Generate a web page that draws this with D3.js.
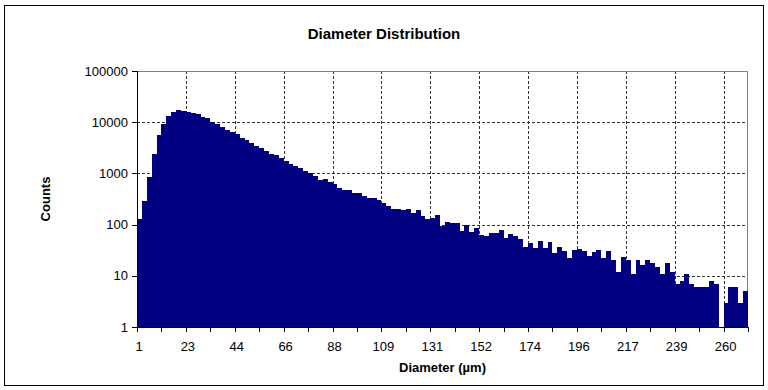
<!DOCTYPE html>
<html>
<head>
<meta charset="utf-8">
<script src="https://cdn.jsdelivr.net/npm/d3@7/dist/d3.min.js"></script>
<style>
  body { margin: 0; background: #fff; }
  svg text { font-family: "Liberation Sans", Arial, sans-serif; fill: #000; }
</style>
</head>
<body>
<div id="chart"></div>
<script>
// counts per diameter bin (bins of ~2.17 µm, labelled every 10th bin)
const counts = [
  128, 288, 850, 2400, 5650, 9300, 13300, 15700, 17400, 16700,
  16100, 15200, 14500, 12700, 12000, 10100, 9150, 8000, 7160, 6350,
  5820, 5000, 4500, 3980, 3440, 3100, 2750, 2400, 2240, 2000,
  1780, 1520, 1400, 1275, 1115, 1000, 890, 745, 775, 690,
  620, 520, 473, 468, 413, 410, 361, 330, 328, 301,
  263, 228, 200, 199, 191, 200, 168, 191, 147, 128,
  134, 153, 93, 112, 108, 107, 75, 98, 72, 86,
  62, 60, 68, 68, 78, 54, 65, 60, 52, 36,
  43, 35, 48, 35, 45, 28, 36, 30, 22, 32,
  33, 30, 24, 29, 32, 22, 30, 20, 12, 23,
  20, 11, 20, 16, 20, 18, 15, 11, 18, 12,
  7, 8, 11, 7, 6, 6, 6, 8, 7, 0,
  3, 6, 6, 3, 5
];
const xTickLabels = ["1", "23", "44", "66", "88", "109", "131", "152", "174", "196", "217", "239", "260"];
const labelEvery = 10;
const minorEvery = 5;
const yTicks = [1, 10, 100, 1000, 10000, 100000];

const width = 768, height = 390;
const plot = { left: 137, right: 748, top: 71, bottom: 327 };

const svg = d3.select("#chart").append("svg")
  .attr("width", width)
  .attr("height", height);

// chart border
svg.append("rect")
  .attr("x", 4.5).attr("y", 5.5)
  .attr("width", 759).attr("height", 380)
  .attr("fill", "none").attr("stroke", "#000");

const x = d3.scaleBand()
  .domain(d3.range(counts.length))
  .range([plot.left, plot.right])
  .padding(0);

const y = d3.scaleLog()
  .domain([1, 100000])
  .range([plot.bottom, plot.top]);

// gridlines
const grid = svg.append("g").attr("stroke", "#333").attr("stroke-dasharray", "3,2");
grid.selectAll(".hgrid")
  .data(yTicks.slice(1, -1))
  .enter().append("line")
  .attr("x1", plot.left).attr("x2", plot.right)
  .attr("y1", d => Math.round(y(d)) + 0.5)
  .attr("y2", d => Math.round(y(d)) + 0.5);
grid.selectAll(".vgrid")
  .data(xTickLabels.slice(1))
  .enter().append("line")
  .attr("x1", (d, i) => Math.round(x((i + 1) * labelEvery)) + 0.5)
  .attr("x2", (d, i) => Math.round(x((i + 1) * labelEvery)) + 0.5)
  .attr("y1", plot.top).attr("y2", plot.bottom);

// plot frame (top/right in grey)
svg.append("path")
  .attr("d", `M${plot.left},${plot.top + 0.5}H${plot.right - 0.5}V${plot.bottom}`)
  .attr("fill", "none").attr("stroke", "#808080");

// bars (empty bins are skipped on the log scale)
svg.append("g")
  .attr("shape-rendering", "crispEdges")
  .selectAll("rect")
  .data(counts.map((v, i) => ({ v, i })).filter(d => d.v >= 1))
  .enter().append("rect")
  .attr("x", d => x(d.i))
  .attr("width", x.bandwidth() + 0.01)
  .attr("y", d => y(d.v))
  .attr("height", d => plot.bottom - y(d.v))
  .attr("fill", "#000080");

// y axis
const yAxis = svg.append("g");
yAxis.append("line")
  .attr("x1", plot.left + 0.5).attr("x2", plot.left + 0.5)
  .attr("y1", plot.top).attr("y2", plot.bottom + 0.5)
  .attr("stroke", "#000");
yAxis.selectAll(".yt")
  .data(yTicks)
  .enter().append("line")
  .attr("x1", plot.left - 5).attr("x2", plot.left)
  .attr("y1", d => Math.round(y(d)) + 0.5)
  .attr("y2", d => Math.round(y(d)) + 0.5)
  .attr("stroke", "#000");
yAxis.selectAll("text")
  .data(yTicks)
  .enter().append("text")
  .attr("x", plot.left - 9)
  .attr("y", d => y(d))
  .attr("dy", "0.35em")
  .attr("text-anchor", "end")
  .attr("font-size", 13)
  .text(d => d);

// x axis
const xAxis = svg.append("g");
xAxis.append("line")
  .attr("x1", plot.left).attr("x2", plot.right)
  .attr("y1", plot.bottom + 0.5).attr("y2", plot.bottom + 0.5)
  .attr("stroke", "#000");
xAxis.selectAll(".xt")
  .data(d3.range(0, counts.length + 1, minorEvery))
  .enter().append("line")
  .attr("x1", d => Math.round(d < counts.length ? x(d) : plot.right) + 0.5)
  .attr("x2", d => Math.round(d < counts.length ? x(d) : plot.right) + 0.5)
  .attr("y1", plot.bottom).attr("y2", plot.bottom + 5)
  .attr("stroke", "#000");
xAxis.selectAll("text")
  .data(xTickLabels)
  .enter().append("text")
  .attr("x", (d, i) => x(i * labelEvery) + 2)
  .attr("y", 351)
  .attr("text-anchor", "middle")
  .attr("font-size", 13)
  .text(d => d);

// titles
svg.append("text")
  .attr("x", 384).attr("y", 39)
  .attr("text-anchor", "middle")
  .attr("font-size", 15).attr("font-weight", "bold")
  .text("Diameter Distribution");
svg.append("text")
  .attr("x", (plot.left + plot.right) / 2).attr("y", 372)
  .attr("text-anchor", "middle")
  .attr("font-size", 13).attr("font-weight", "bold")
  .text("Diameter (µm)");
svg.append("text")
  .attr("transform", `translate(50,${(plot.top + plot.bottom) / 2}) rotate(-90)`)
  .attr("text-anchor", "middle")
  .attr("font-size", 13).attr("font-weight", "bold")
  .text("Counts");
</script>
</body>
</html>
